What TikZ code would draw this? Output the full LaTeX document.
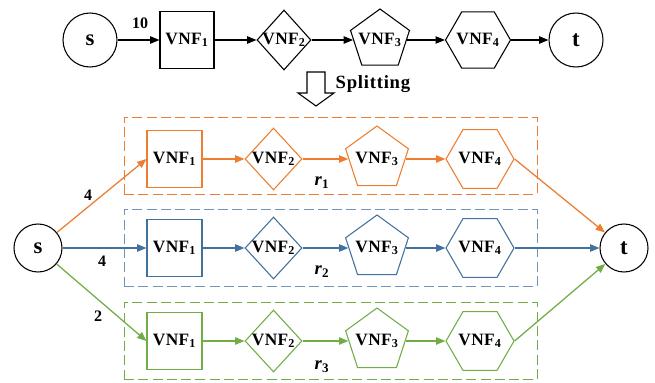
\documentclass[tikz,border=0pt]{standalone}
\usepackage{fontspec}
\setmainfont{Liberation Serif}
\newfontfamily\spacedfont[LetterSpace=4]{Liberation Serif}
\newfontfamily\vnffont[LetterSpace=2]{Liberation Serif}
\usetikzlibrary{shapes.geometric,arrows.meta}
\definecolor{cor}{HTML}{ED7D31}
\definecolor{cbl}{HTML}{41719C}
\definecolor{cbd}{HTML}{7094BC}
\definecolor{cgr}{HTML}{70AD47}
\begin{document}
\begin{tikzpicture}[x=0.75pt,y=-0.75pt,
  shp/.style={draw, line width=0.8pt, inner sep=0pt},
  vnf/.style={font=\fontsize{13}{15}\selectfont\vnffont\bfseries},
  term/.style={shp, circle, font=\fontsize{17}{19}\selectfont\bfseries},
  bigterm/.style={term, minimum size=40.5pt},
  smallterm/.style={term, minimum size=36pt},
  sqbig/.style={shp, rectangle, vnf, minimum width=40.5pt, minimum height=42.75pt},
  sqsmall/.style={shp, rectangle, vnf, minimum width=41.25pt, minimum height=42.75pt},
  diabig/.style={shp, diamond, minimum width=40.5pt, minimum height=45pt},
  diasmall/.style={shp, diamond, minimum width=42.75pt, minimum height=46.5pt},
  pentbig/.style={shp, regular polygon, regular polygon sides=5, minimum size=46.5pt},
  pentsmall/.style={shp, regular polygon, regular polygon sides=5, minimum size=49.5pt},
  hexbig/.style={shp, regular polygon, regular polygon sides=6, minimum size=48.75pt},
  hexsmall/.style={shp, regular polygon, regular polygon sides=6, minimum size=51pt},
  arr/.style={-{Triangle[length=7pt,width=5.5pt]}, line width=0.95pt},
  elab/.style={font=\fontsize{12}{14}\selectfont\bfseries},
  rlab/.style={font=\fontsize{14}{16}\selectfont\bfseries},
  dbox/.style={draw, dash pattern=on 7.5pt off 3.2pt, line width=0.7pt, minimum width=309.75pt, minimum height=57.75pt, inner sep=0pt}
]
\useasboundingbox (0,0) rectangle (655,382);

% ---------- top row ----------
\node[bigterm] (S) at (90,40) {s};
\node[sqbig] (V1) at (187,40) {VNF\textsubscript{1}};
\node[diabig, label={[vnf]center:VNF\textsubscript{2}}] (V2) at (284,40) {};
\node[pentbig, label={[vnf]center:VNF\textsubscript{3}}] (V3) at (380,40) {};
\node[hexbig, label={[vnf]center:VNF\textsubscript{4}}] (V4) at (478,40) {};
\node[bigterm] (T) at (576,40) {t};
\draw[arr] (S) -- (V1);
\draw[arr] (V1) -- (V2);
\draw[arr] (V2) -- (V3);
\draw[arr] (V3) -- (V4);
\draw[arr] (V4) -- (T);
\node[elab] (l10) at (140,23) {10};

% ---------- splitting arrow ----------
\draw[line width=0.8pt, fill=white] (307,72) -- (325,72) -- (325,93) -- (334,93) -- (316,106) -- (298,93) -- (307,93) -- cycle;
\node[anchor=west, font=\fontsize{14}{16}\selectfont\spacedfont\bfseries] (split) at (331,84) {Splitting};

% ---------- dashed boxes ----------
\node[dbox, draw=cor] (box1) at (330.5,155.5) {};
\node[dbox, draw=cbd] (box2) at (330.5,248) {};
\node[dbox, draw=cgr] (box3) at (330.5,341) {};

% ---------- terminals ----------
\node[smallterm] (s) at (38,248) {s};
\node[smallterm] (t) at (624,248) {t};

% ---------- orange row ----------
\begin{scope}[every node/.append style={draw=cor}]
\node[sqsmall] (o1) at (174.5,159) {VNF\textsubscript{1}};
\node[diasmall, label={[vnf]center:VNF\textsubscript{2}}] (o2) at (273.5,159) {};
\node[pentsmall, label={[vnf]center:VNF\textsubscript{3}}] (o3) at (377,159) {};
\node[hexsmall, label={[vnf]center:VNF\textsubscript{4}}] (o4) at (480,159) {};
\end{scope}
\begin{scope}[cor]
\draw[arr] (s) -- (o1.west);
\draw[arr] (o1) -- (o2);
\draw[arr] (o2) -- (o3);
\draw[arr] (o3) -- (o4);
\draw[arr] (o4.east) -- (t);
\end{scope}

% ---------- blue row ----------
\begin{scope}[every node/.append style={draw=cbl}]
\node[sqsmall] (b1) at (174.5,248) {VNF\textsubscript{1}};
\node[diasmall, label={[vnf]center:VNF\textsubscript{2}}] (b2) at (273.5,248) {};
\node[pentsmall, label={[vnf]center:VNF\textsubscript{3}}] (b3) at (377,248) {};
\node[hexsmall, label={[vnf]center:VNF\textsubscript{4}}] (b4) at (480,248) {};
\end{scope}
\begin{scope}[cbl]
\draw[arr] (s) -- (b1);
\draw[arr] (b1) -- (b2);
\draw[arr] (b2) -- (b3);
\draw[arr] (b3) -- (b4);
\draw[arr] (b4) -- (t);
\end{scope}

% ---------- green row ----------
\begin{scope}[every node/.append style={draw=cgr}]
\node[sqsmall] (g1) at (174.5,341) {VNF\textsubscript{1}};
\node[diasmall, label={[vnf]center:VNF\textsubscript{2}}] (g2) at (273.5,341) {};
\node[pentsmall, label={[vnf]center:VNF\textsubscript{3}}] (g3) at (377,341) {};
\node[hexsmall, label={[vnf]center:VNF\textsubscript{4}}] (g4) at (480,341) {};
\end{scope}
\begin{scope}[cgr]
\draw[arr] (s) -- (g1.west);
\draw[arr] (g1) -- (g2);
\draw[arr] (g2) -- (g3);
\draw[arr] (g3) -- (g4);
\draw[arr] (g4.east) -- (t);
\end{scope}

% ---------- labels ----------
\node[elab] (lo) at (88,195) {4};
\node[elab] (lb) at (102,261) {4};
\node[elab] (lg) at (98,316) {2};
\node[rlab] (r1) at (322,183) {\textit{r}\textsubscript{1}};
\node[rlab] (r2) at (322,272) {\textit{r}\textsubscript{2}};
\node[rlab] (r3) at (322,367) {\textit{r}\textsubscript{3}};
\end{tikzpicture}
\end{document}
